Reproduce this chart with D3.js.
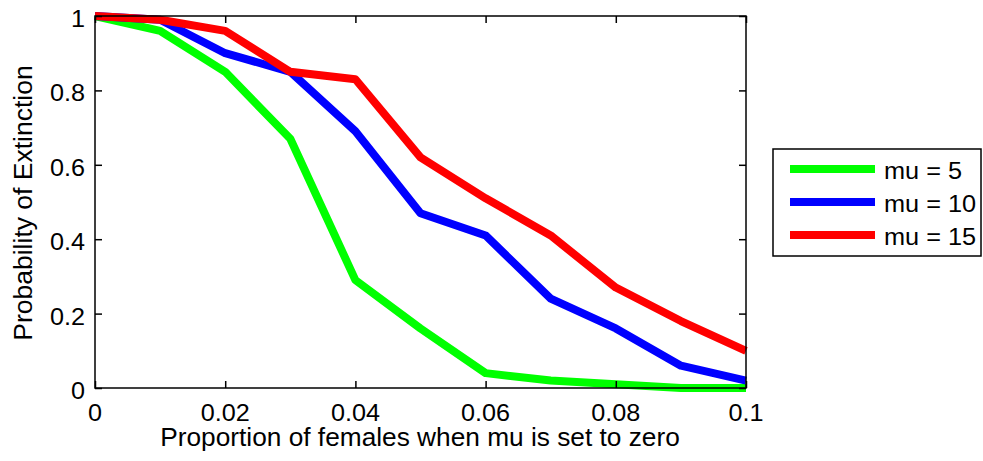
<!DOCTYPE html>
<html>
<head>
<meta charset="utf-8">
<script src="https://cdn.jsdelivr.net/npm/d3@7"></script>
<style>
  body { margin: 0; background: #fff; }
  text { font-family: "Liberation Sans", Arial, sans-serif; fill: #000; }
</style>
</head>
<body>
<div id="main"></div>
<script>
// data
var proportion = [0, 0.01, 0.02, 0.03, 0.04, 0.05, 0.06, 0.07, 0.08, 0.09, 0.1];
var mu5  = [1, 0.96, 0.85, 0.67, 0.29, 0.16, 0.04, 0.02, 0.01, 0.0, 0.0];
var mu10 = [1, 0.99, 0.90, 0.85, 0.69, 0.47, 0.41, 0.24, 0.16, 0.06, 0.02];
var mu15 = [1, 0.99, 0.96, 0.85, 0.83, 0.62, 0.51, 0.41, 0.27, 0.18, 0.10];
var seriesNames = ["mu = 5", "mu = 10", "mu = 15"];
var seriesColors = ["#00ff00", "#0000ff", "#ff0000"];
var xTicks = [0, 0.02, 0.04, 0.06, 0.08, 0.1];
var xTickLabels = ["0", "0.02", "0.04", "0.06", "0.08", "0.1"];
var yTicks = [0, 0.2, 0.4, 0.6, 0.8, 1];
var yTickLabels = ["0", "0.2", "0.4", "0.6", "0.8", "1"];

var W = 983, H = 461;
// plot box (window.top is read-only, so use other names)
var plotL = 95, plotR = 746, plotT = 16, plotB = 388;

var svg = d3.select("#main").append("svg")
  .attr("width", W)
  .attr("height", H);

var x = d3.scaleLinear().domain([0, 0.1]).range([plotL, plotR]);
var y = d3.scaleLinear().domain([0, 1]).range([plotB, plotT]);

// plot lines
var series = [mu5, mu10, mu15];
var line = d3.line()
  .x(function(d, i) { return x(proportion[i]); })
  .y(function(d) { return y(d); });

series.forEach(function(s, k) {
  svg.append("path")
    .datum(s)
    .attr("d", line)
    .attr("fill", "none")
    .attr("stroke", seriesColors[k])
    .attr("stroke-width", 8)
    .attr("stroke-linejoin", "round");
});

// frame
svg.append("rect")
  .attr("x", plotL).attr("y", plotT)
  .attr("width", plotR - plotL).attr("height", plotB - plotT)
  .attr("fill", "none").attr("stroke", "#000").attr("stroke-width", 1.5);

var tickLen = 7;
// inward ticks on all four sides
var bottomAxis = d3.axisBottom(x).tickValues(xTicks).tickSize(-tickLen).tickFormat("");
var topAxis = d3.axisTop(x).tickValues(xTicks).tickSize(-tickLen).tickFormat("");
var leftAxis = d3.axisLeft(y).tickValues(yTicks).tickSize(-tickLen).tickFormat("");
var rightAxis = d3.axisRight(y).tickValues(yTicks).tickSize(-tickLen).tickFormat("");

[[bottomAxis, "translate(0," + plotB + ")"],
 [topAxis, "translate(0," + plotT + ")"],
 [leftAxis, "translate(" + plotL + ",0)"],
 [rightAxis, "translate(" + plotR + ",0)"]].forEach(function(a) {
  var g = svg.append("g").attr("transform", a[1]).call(a[0]);
  g.select(".domain").remove();
  g.selectAll("line").attr("stroke", "#000").attr("stroke-width", 1.5);
});

// tick labels
xTicks.forEach(function(t, i) {
  svg.append("text")
    .attr("transform", "translate(" + x(t) + "," + 421 + ") scale(1.05,1)")
    .attr("text-anchor", "middle")
    .style("font-size", "24px")
    .text(xTickLabels[i]);
});
yTicks.forEach(function(t, i) {
  svg.append("text")
    .attr("transform", "translate(" + (plotL - 10) + "," + (y(t) + 11) + ") scale(1.05,1)")
    .attr("text-anchor", "end")
    .style("font-size", "24px")
    .text(yTickLabels[i]);
});

// axis titles
svg.append("text")
  .attr("transform", "translate(420,446) scale(1.03,1)")
  .attr("text-anchor", "middle")
  .style("font-size", "25.5px")
  .text("Proportion of females when mu is set to zero");

svg.append("text")
  .attr("transform", "translate(32,203) rotate(-90)")
  .attr("text-anchor", "middle")
  .style("font-size", "26.5px")
  .text("Probability of Extinction");

// legend
var legend = svg.append("g");
legend.append("rect")
  .attr("x", 773).attr("y", 149)
  .attr("width", 208).attr("height", 107)
  .attr("fill", "#fff").attr("stroke", "#000").attr("stroke-width", 1.5);

seriesNames.forEach(function(name, k) {
  var ly = 169 + k * 33;
  legend.append("line")
    .attr("x1", 790).attr("x2", 875)
    .attr("y1", ly).attr("y2", ly)
    .attr("stroke", seriesColors[k]).attr("stroke-width", 8);
  legend.append("text")
    .attr("transform", "translate(884," + (ly + 10) + ") scale(1.1,1)")
    .style("font-size", "23px")
    .text(name);
});
</script>
</body>
</html>
